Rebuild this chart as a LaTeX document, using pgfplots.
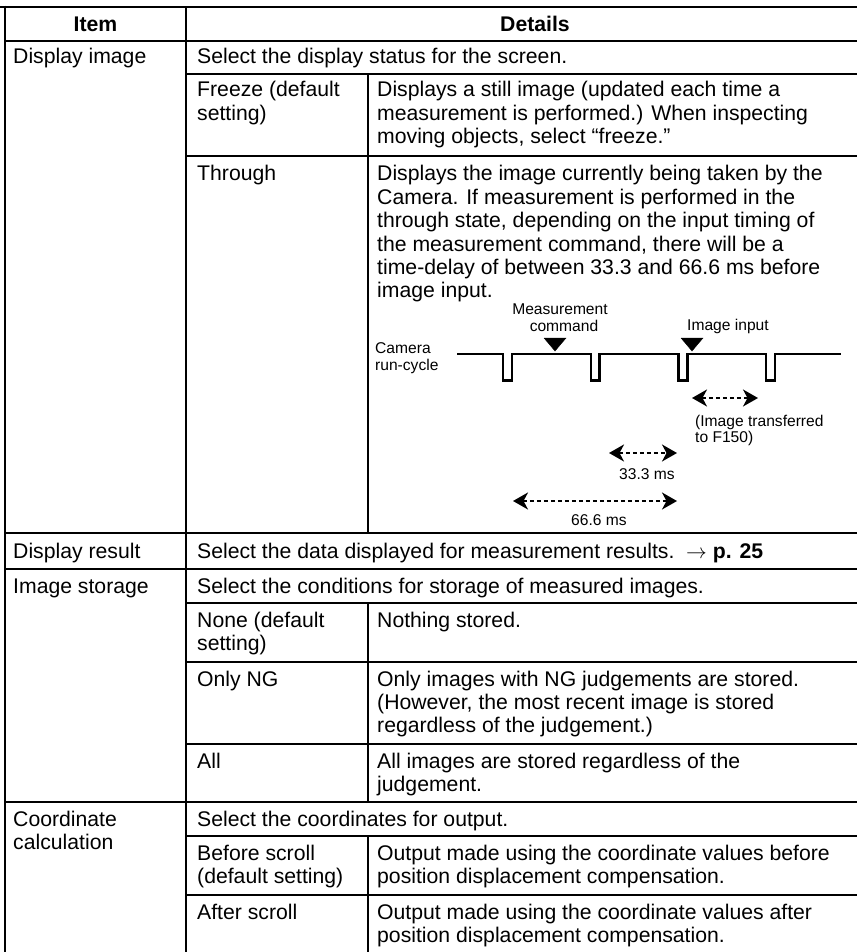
\documentclass[border=0pt]{standalone}
\usepackage{pgfplots}
\pgfplotsset{compat=1.18}
\usepackage{fontspec}
\setmainfont{Liberation Sans}
\usetikzlibrary{arrows.meta}
\tikzset{
  tbl/.style={black, line width=2.7pt},
  wav/.style={black, line width=2.4pt, line join=miter},
  dar/.style={black, line width=1.9pt, dash pattern=on 4pt off 3pt,
    {Stealth[length=15pt,width=17pt,inset=4.5pt]}-{Stealth[length=15pt,width=17pt,inset=4.5pt]}},
  T/.style={anchor=base west, inner sep=0pt, font=\fontsize{21.2}{23.3}\selectfont},
  S/.style={anchor=base west, inner sep=0pt, font=\fontsize{15.6}{16.5}\selectfont},
}
\begin{document}
\begin{tikzpicture}
\begin{axis}[name=ax, at={(0,0)}, anchor=south west,
  width=857pt, height=952pt, scale only axis,
  xmin=0, xmax=857, ymin=0, ymax=952, y dir=reverse,
  axis lines=none, clip=true, every axis plot/.append style={no marks},
]
% ---- table rules ----
\addplot[tbl] coordinates {(0,7) (857,7)};
\addplot[tbl] coordinates {(5,41) (857,41)};
\addplot[tbl] coordinates {(186,74) (857,74)};
\addplot[tbl] coordinates {(186,156) (857,156)};
\addplot[tbl] coordinates {(5,533) (857,533)};
\addplot[tbl] coordinates {(5,569) (857,569)};
\addplot[tbl] coordinates {(186,603) (857,603)};
\addplot[tbl] coordinates {(186,662) (857,662)};
\addplot[tbl] coordinates {(186,744) (857,744)};
\addplot[tbl] coordinates {(5,802) (857,802)};
\addplot[tbl] coordinates {(186,836) (857,836)};
\addplot[tbl] coordinates {(186,895) (857,895)};
\addplot[tbl] coordinates {(5,5.65) (5,952)};
\addplot[tbl] coordinates {(186,7) (186,952)};
\addplot[tbl] coordinates {(368,74) (368,533)};
\addplot[tbl] coordinates {(368,603) (368,802)};
\addplot[tbl] coordinates {(368,836) (368,952)};
% ---- waveform ----
\addplot[wav] coordinates {(457,354) (503,354) (503,380.5) (512,380.5) (512,354)
  (591,354) (591,380.5) (599.5,380.5) (599.5,354) (678.5,354) (678.5,380.5)
  (687.5,380.5) (687.5,354) (766,354) (766,380.5) (775,380.5) (775,354) (841,354)};
% ---- triangles ----
\addplot[fill=black, draw=black] coordinates {(544,338) (566,338) (555,351) (544,338)};
\addplot[fill=black, draw=black] coordinates {(681,338) (703,338) (692,351) (681,338)};
% ---- double arrows ----
\addplot[dar] coordinates {(692,398) (758,398)};
\addplot[dar] coordinates {(609,453) (677,453)};
\addplot[dar] coordinates {(513,501) (677,501)};
% ---- header ----
\node[anchor=base, inner sep=0pt, font=\fontsize{21.2}{23.3}\selectfont\bfseries] at (axis cs:95.5,31.5) {Item};
\node[anchor=base, inner sep=0pt, font=\fontsize{21.2}{23.3}\selectfont\bfseries] at (axis cs:535,31.5) {Details};
% ---- Display image ----
\node[T] at (axis cs:13,64) {Display image};
\node[T] at (axis cs:197,64) {Select the display status for the screen.};
\node[T] at (axis cs:197,97) {Freeze (default};
\node[T] at (axis cs:197,120.3) {setting)};
\node[T] at (axis cs:377,97) {Displays a still image (updated each time a};
\node[T] at (axis cs:377,120.3) {measurement is performed.) When inspecting};
\node[T] at (axis cs:377,143.6) {moving objects, select “freeze.”};
\node[T] at (axis cs:197,181) {Through};
\node[T] at (axis cs:377,181) {Displays the image currently being taken by the};
\node[T] at (axis cs:377,204.3) {Camera. If measurement is performed in the};
\node[T] at (axis cs:377,227.6) {through state, depending on the input timing of};
\node[T] at (axis cs:377,251) {the measurement command, there will be a};
\node[T] at (axis cs:377,274.3) {time-delay of between 33.3 and 66.6 ms before};
\node[T] at (axis cs:377,297.6) {image input.};
% diagram labels
\node[S, anchor=base] at (axis cs:560,314) {Measurement};
\node[S, anchor=base] at (axis cs:564,331) {command};
\node[S] at (axis cs:687,330) {Image input};
\node[S] at (axis cs:375,353) {Camera};
\node[S] at (axis cs:375,370) {run-cycle};
\node[S] at (axis cs:695,426) {(Image transferred};
\node[S] at (axis cs:695,442) {to F150)};
\node[S] at (axis cs:619,479) {33.3 ms};
\node[S] at (axis cs:571,525) {66.6 ms};
% ---- Display result ----
\node[T] at (axis cs:13,558) {Display result};
\node[T] at (axis cs:197,558) {Select the data displayed for measurement results.\ \ $\rightarrow$ \textbf{p. 25}};
% ---- Image storage ----
\node[T] at (axis cs:13,593) {Image storage};
\node[T] at (axis cs:197,593) {Select the conditions for storage of measured images.};
\node[T] at (axis cs:197,627) {None (default};
\node[T] at (axis cs:197,650.3) {setting)};
\node[T] at (axis cs:377,627) {Nothing stored.};
\node[T] at (axis cs:197,686) {Only NG};
\node[T] at (axis cs:377,686) {Only images with NG judgements are stored.};
\node[T] at (axis cs:377,709.3) {(However, the most recent image is stored};
\node[T] at (axis cs:377,732.6) {regardless of the judgement.)};
\node[T] at (axis cs:197,768) {All};
\node[T] at (axis cs:377,768) {All images are stored regardless of the};
\node[T] at (axis cs:377,791.3) {judgement.};
% ---- Coordinate calculation ----
\node[T] at (axis cs:13,826) {Coordinate};
\node[T] at (axis cs:13,849.3) {calculation};
\node[T] at (axis cs:197,826) {Select the coordinates for output.};
\node[T] at (axis cs:197,860) {Before scroll};
\node[T] at (axis cs:197,883.3) {(default setting)};
\node[T] at (axis cs:377,860) {Output made using the coordinate values before};
\node[T] at (axis cs:377,883.3) {position displacement compensation.};
\node[T] at (axis cs:197,919) {After scroll};
\node[T] at (axis cs:377,919) {Output made using the coordinate values after};
\node[T] at (axis cs:377,942.3) {position displacement compensation.};
\end{axis}
\pgfresetboundingbox
\path[use as bounding box] (ax.south west) rectangle (ax.north east);
\end{tikzpicture}
\end{document}
